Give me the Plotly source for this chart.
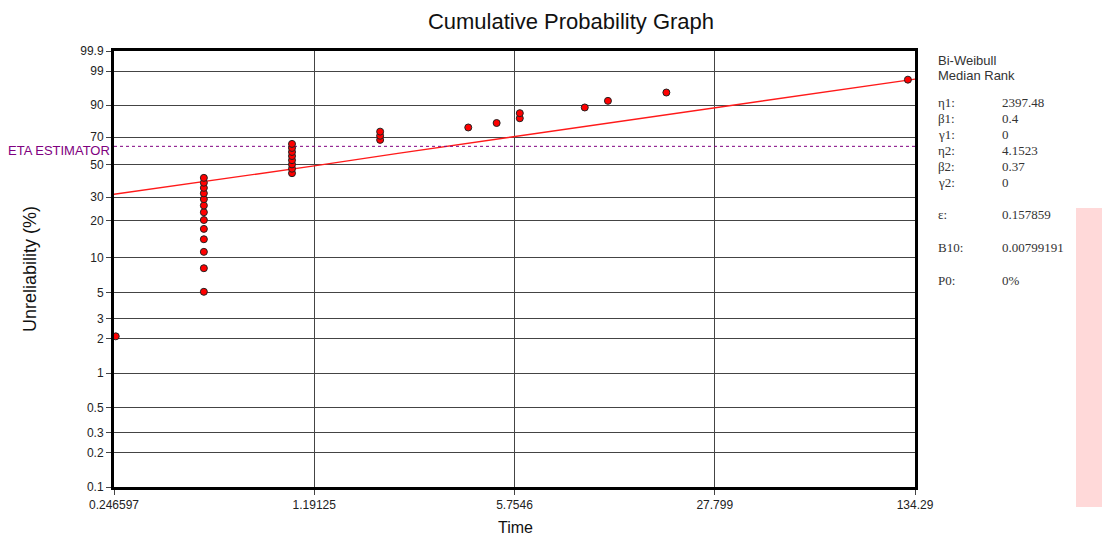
import numpy as np
import plotly.graph_objects as go

# ---------------- data ----------------
times = [0.25,
         0.5, 0.5, 0.5, 0.5, 0.5, 0.5, 0.5, 0.5, 0.5, 0.5, 0.5, 0.5, 0.5,
         1.0, 1.0, 1.0, 1.0, 1.0, 1.0, 1.0, 1.0,
         2.0, 2.0, 2.0,
         4.0, 5.0, 6.0, 6.0, 10.0, 12.0, 19.0, 127.0]
unrel_pct = [2.1,
             5.1, 8.1, 11.1, 14.1, 17.1, 20.1, 23.1, 26.0, 29.0, 32.0, 35.0, 38.0, 41.0,
             44.0, 47.0, 50.0, 53.0, 56.0, 59.0, 62.0, 65.0,
             68.0, 71.0, 74.0,
             76.9, 79.9, 82.9, 85.9, 88.9, 91.9, 94.9, 97.9]

fit_times = [0.246597, 0.5, 1.19125, 2.3, 5.7546, 27.799, 134.29]
fit_pct = [31.5, 38.6, 48.9, 58.0, 70.4, 88.8, 98.0]

eta_pct = 63.2

y_tick_pct = [0.1, 0.2, 0.3, 0.5, 1, 2, 3, 5, 10, 20, 30, 50, 70, 90, 99, 99.9]
y_tick_text = ["0.1", "0.2", "0.3", "0.5", "1", "2", "3", "5", "10", "20", "30",
               "50", "70", "90", "99", "99.9"]
x_tick_vals = [0.246597, 1.19125, 5.7546, 27.799, 134.29]
x_tick_text = ["0.246597", "1.19125", "5.7546", "27.799", "134.29"]

param_labels = ["η1:", "β1:", "γ1:", "η2:", "β2:", "γ2:", "ε:", "B10:", "P0:"]
param_values = ["2397.48", "0.4", "0", "4.1523", "0.37", "0", "0.157859", "0.00799191", "0%"]


def wb(p_pct):
    p = np.asarray(p_pct, dtype=float) / 100.0
    return np.log(-np.log(1.0 - p))


# ---------------- layout geometry (page pixels) ----------------
OFF = 8                      # default page body margin
W, H = 1110 - OFF, 535 - OFF
L, R, T, B = 114, 915, 51, 487
pw, ph = R - L, B - T


def px(x):
    return (x - L) / pw


def py(y):
    return (B - y) / ph


SANS = "Liberation Sans, Arial, sans-serif"
SERIF = "Liberation Serif, Times New Roman, serif"

fig = go.Figure()

fig.add_trace(go.Scatter(
    x=fit_times, y=wb(fit_pct), mode="lines",
    line=dict(color="#ff1a1a", width=1.3), hoverinfo="skip", showlegend=False))

fig.add_trace(go.Scatter(
    x=[x_tick_vals[0], x_tick_vals[-1]], y=wb([eta_pct, eta_pct]), mode="lines",
    line=dict(color="#800080", width=1, dash="3px,3px"), hoverinfo="skip", showlegend=False))

fig.add_trace(go.Scatter(
    x=times, y=wb(unrel_pct), mode="markers",
    marker=dict(size=7, color="#ff0000", line=dict(color="#222222", width=1)),
    showlegend=False))

fig.update_xaxes(
    type="log", range=[np.log10(x_tick_vals[0]), np.log10(x_tick_vals[-1])],
    tickmode="array", tickvals=x_tick_vals, ticktext=x_tick_text,
    showgrid=True, gridcolor="#444444", gridwidth=1,
    showline=True, linecolor="black", linewidth=3, mirror=True,
    ticks="outside", ticklen=5, tickcolor="#444444",
    tickfont=dict(family=SANS, size=12, color="#222222"),
    zeroline=False)

fig.update_yaxes(
    range=[float(wb(0.1)), float(wb(99.9))],
    tickmode="array", tickvals=wb(y_tick_pct), ticktext=y_tick_text,
    showgrid=True, gridcolor="#444444", gridwidth=1,
    showline=True, linecolor="black", linewidth=3, mirror=True,
    ticks="outside", ticklen=5, tickcolor="#444444",
    tickfont=dict(family=SANS, size=12, color="#222222"),
    zeroline=False)

annotations = [
    dict(text="Time", xref="paper", yref="paper", x=px(515), y=py(527),
         xanchor="center", yanchor="middle", showarrow=False,
         font=dict(family=SANS, size=16, color="#111111")),
    dict(text="Unreliability (%)", xref="paper", yref="paper", x=px(30), y=py(269),
         xanchor="center", yanchor="middle", showarrow=False, textangle=-90,
         font=dict(family=SANS, size=18, color="#111111")),
    dict(text="ETA ESTIMATOR", xref="paper", yref="paper", x=px(112), y=py(150),
         xanchor="right", yanchor="middle", showarrow=False,
         font=dict(family=SANS, size=13, color="#800080")),
    dict(text="Bi-Weibull", xref="paper", yref="paper", x=px(936), y=py(60),
         xanchor="left", yanchor="middle", showarrow=False,
         font=dict(family=SANS, size=13, color="#333333")),
    dict(text="Median Rank", xref="paper", yref="paper", x=px(936), y=py(75),
         xanchor="left", yanchor="middle", showarrow=False,
         font=dict(family=SANS, size=13, color="#333333")),
]
row_y = [102, 118, 134, 150, 166, 182, 214, 247, 280]
for lab, val, yy in zip(param_labels, param_values, row_y):
    annotations.append(dict(text=lab, xref="paper", yref="paper", x=px(936), y=py(yy),
                            xanchor="left", yanchor="middle", showarrow=False,
                            font=dict(family=SERIF, size=13, color="#333333")))
    annotations.append(dict(text=val, xref="paper", yref="paper", x=px(1000), y=py(yy),
                            xanchor="left", yanchor="middle", showarrow=False,
                            font=dict(family=SERIF, size=13, color="#333333")))

shapes = [dict(type="rect", xref="paper", yref="paper",
               x0=px(1076), x1=px(1112), y0=py(507), y1=py(208),
               fillcolor="#ffd9d9", line=dict(width=0), layer="below")]

fig.update_layout(
    width=W, height=H,
    margin=dict(l=L - OFF, r=W - (R - OFF), t=T - OFF, b=H - (B - OFF), pad=0),
    paper_bgcolor="white", plot_bgcolor="white",
    title=dict(text="Cumulative Probability Graph", xref="paper", x=px(571), xanchor="center",
               yref="container", y=1 - (21 - OFF) / H, yanchor="middle",
               font=dict(family=SANS, size=22, color="#111111")),
    annotations=annotations, shapes=shapes, showlegend=False)

fig.write_html("out.html")
